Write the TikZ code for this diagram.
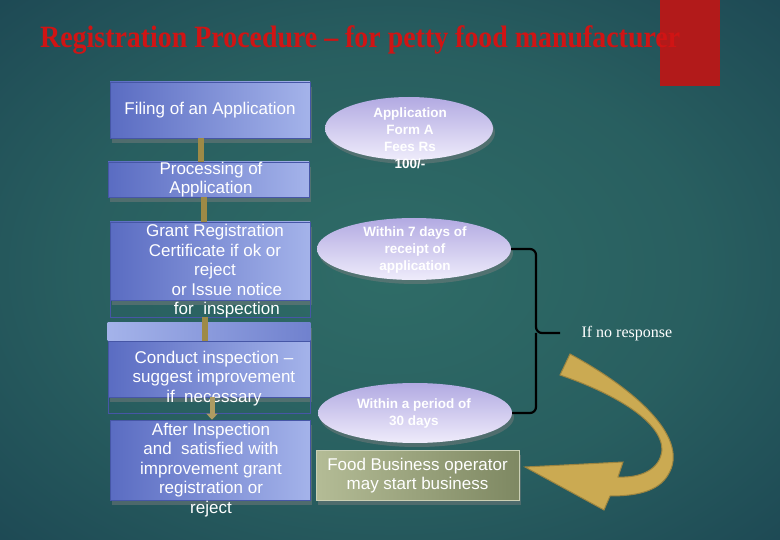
\documentclass[tikz,border=0pt]{standalone}
\usepackage{fontspec}
\setmainfont{Liberation Sans}
\newfontfamily\serifname{Liberation Serif}
\usetikzlibrary{shapes.geometric,shadows,calc,arrows.meta}

\definecolor{bgin}{HTML}{2F6C67}
\definecolor{bgout}{HTML}{14364A}
\definecolor{boxdark}{HTML}{5A6CC2}
\definecolor{boxlight}{HTML}{A4B3EA}
\definecolor{boxline}{HTML}{4656A6}
\definecolor{ovaltop}{HTML}{B2AAE2}
\definecolor{ovalbot}{HTML}{EFECFB}
\definecolor{greenl}{HTML}{B4BC96}
\definecolor{greend}{HTML}{7E8862}
\definecolor{linkgold}{HTML}{9E8A46}
\definecolor{arrowgold}{HTML}{CBAA52}
\definecolor{arrowedge}{HTML}{9C8440}
\definecolor{titlered}{HTML}{D01414}
\definecolor{barred}{HTML}{B21A1A}

\pgfdeclareradialshading{slidebg}{\pgfpoint{0bp}{0bp}}{color(0bp)=(bgin); color(20bp)=(bgin!75!bgout); color(50bp)=(bgout)}

\tikzset{
  stepbox/.style={rectangle, draw=boxline, line width=0.6pt, left color=boxdark, right color=boxlight,
    inner sep=0pt, drop shadow={opacity=0.45, shadow xshift=2pt, shadow yshift=-5pt}},
  oval/.style={ellipse, top color=ovaltop, bottom color=ovalbot, inner sep=0pt,
    drop shadow={opacity=0.45, shadow xshift=2pt, shadow yshift=-4pt}},
  startbox/.style={rectangle, draw=greenl!70!white, line width=0.6pt, left color=greenl, right color=greend,
    inner sep=0pt, drop shadow={opacity=0.45, shadow xshift=2pt, shadow yshift=-5pt}},
  boxtext/.style={text=white, align=center, font=\fontsize{17}{19.5}\selectfont},
  ovaltext/.style={text=white, align=center, font=\fontsize{13.5}{17}\selectfont\bfseries},
  link/.style={draw=linkgold, line width=6pt},
  bracket/.style={draw=black, line width=2.2pt, rounded corners=6pt}
}

\begin{document}
\begin{tikzpicture}[x=1pt, y=-1pt]
  % slide background
  \shade[shading=slidebg] (0,0) rectangle (780,540);
  \useasboundingbox (0,0) rectangle (780,540);
  \fill[barred] (660,0) rectangle (720,86);
  \node[anchor=base west, text=titlered, xscale=0.9, font=\serifname\bfseries\fontsize{31}{34}\selectfont] (title) at (37,48)
    {Registration Procedure – for petty food manufacturer};

  % left column
  \node[stepbox, minimum width=200, minimum height=56] (b1) at (210,110) {};
  \node[stepbox, minimum width=201, minimum height=35] (b2) at (208.5,179.5) {};
  \node[stepbox, minimum width=200, minimum height=78] (b3) at (210,261) {};
  \node[stepbox, minimum width=202, minimum height=74] (b4) at (209,360) {};
  \node[stepbox, minimum width=200, minimum height=80] (b5) at (210,460) {};

  \coordinate (split) at (0,341);
  \shade[left color=boxlight, right color=boxdark!70!boxlight] (b4.north west) rectangle (b4.east |- split);
  \draw[boxline] (b4.west |- split) -- (b4.east |- split);
  \draw[boxline, line width=0.4pt] (b3.south west) rectangle ($(b3.south east)+(0,17)$);
  \draw[boxline, line width=0.4pt] (b4.south west) rectangle ($(b4.south east)+(0,16)$);

  \node[boxtext] (t1) at (210,110.5) {Filing of an Application};
  \node[boxtext] (t2) at (211,179.5) {Processing of\\Application};
  \node[boxtext] (t3) at (215,271.5) {Grant Registration\\Certificate if ok or\\reject\\\hspace*{1.4em}or Issue notice\\\hspace*{1.4em}for\ \ inspection};
  \node[boxtext] (t4) at (214,378.5) {Conduct inspection –\\suggest improvement\\if\ \ necessary};
  \node[boxtext] (t5) at (211,470) {After Inspection\\and\ \ satisfied with\\improvement grant\\registration or\\reject};

  % links between steps
  \draw[link] ([xshift=-9pt]b1.south) -- ([xshift=-9pt]b1.south |- b2.north);
  \draw[link] ([xshift=-4.5pt]b2.south) -- ([xshift=-4.5pt]b2.south |- b3.north);
  \draw[link] ($(b3.south)+(-5.5,17)$) -- ([xshift=-5.5pt]b3.south |- split);
  \draw[draw=linkgold!85!white, line width=5pt, -{Triangle[width=11pt,length=6pt]}]
    ([xshift=3pt]b4.south) -- ([xshift=3pt]b4.south |- b5.north);

  % right column
  \node[oval, minimum width=168, minimum height=63] (e1) at (409,128.5) {};
  \node[oval, minimum width=194, minimum height=62] (e2) at (414,249) {};
  \node[oval, minimum width=194, minimum height=60] (e3) at (415,413) {};
  \node[startbox, minimum width=203, minimum height=50] (g) at (417.5,475) {};

  \node[ovaltext] (o1) at (410,138.5) {Application\\Form A\\Fees Rs\\100/-};
  \node[ovaltext] (o2) at (415,250) {Within 7 days of\\receipt of\\application};
  \node[ovaltext] (o3) at (414,413.5) {Within a period of\\30 days};
  \node[boxtext] (o4) at (417.5,475.5) {Food Business operator\\may start business};

  % if no response
  \coordinate (bend) at (536,333);
  \coordinate (tick) at (560,333);
  \draw[bracket] (e2.east) -| (bend) -- (tick);
  \draw[bracket] (bend) |- (e3.east);
  \node[anchor=west, text=white, font=\serifname\fontsize{16}{19}\selectfont] (nr) at (578,334) {If no response};

  \filldraw[fill=arrowgold, draw=arrowedge, line width=1pt]
    (570,354) .. controls (640,392) and (690,440) .. (668,475)
    .. controls (658,492) and (635,496) .. (610,496)
    -- (604,510) -- (525,467) -- (623,462) -- (618,477)
    .. controls (640,478) and (660,470) .. (662,450)
    .. controls (662,420) and (610,392) .. (560,375) -- cycle;
\end{tikzpicture}
\end{document}
